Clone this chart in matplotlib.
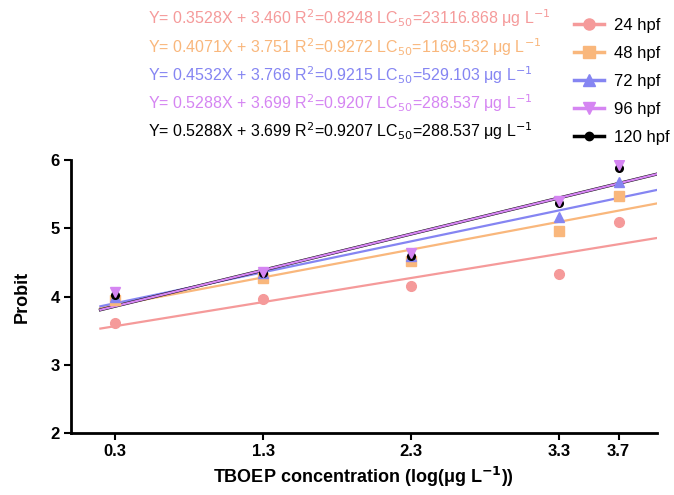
import matplotlib
matplotlib.use("Agg")
import matplotlib.pyplot as plt
from matplotlib.lines import Line2D
import numpy as np

plt.rcParams['font.family'] = ['Liberation Sans', 'DejaVu Sans']

x_vals = [0.3, 1.3, 2.3, 3.3, 3.7]
xtick_labels = ["0.3", "1.3", "2.3", "3.3", "3.7"]
series_names = ["24 hpf", "48 hpf", "72 hpf", "96 hpf", "120 hpf"]
y24 = [3.61, 3.96, 4.15, 4.33, 5.09]
y48 = [3.95, 4.27, 4.52, 4.96, 5.47]
y72 = [4.00, 4.35, 4.60, 5.16, 5.68]
y96 = [4.06, 4.36, 4.64, 5.40, 5.93]
y120 = [4.02, 4.34, 4.60, 5.37, 5.88]
slopes = [0.3528, 0.4071, 0.4532, 0.5288, 0.5288]
intercepts = [3.460, 3.751, 3.766, 3.699, 3.699]
r2 = ["0.8248", "0.9272", "0.9215", "0.9207", "0.9207"]
lc50 = ["23116.868", "1169.532", "529.103", "288.537", "288.537"]

colors = ["#F59A9A", "#F9B77C", "#8585F2", "#D585F2", "#000000"]
markers = ["o", "s", "^", "v", "o"]
ys = [y24, y48, y72, y96, y120]

fig = plt.figure(figsize=(6.74, 4.95), dpi=100)
ax = fig.add_axes([0.105, 0.125, 0.87, 0.552])

xl = np.array([0.2, 3.96])
line_z = [2.0, 2.1, 2.2, 2.4, 2.3]
for i in range(5):
    lw = 2.2 if i == 4 else 1.6
    ax.plot(xl, slopes[i] * xl + intercepts[i], color=colors[i], lw=lw, zorder=line_z[i])

mark_z = [3.0, 3.1, 3.2, 3.4, 3.3]
for i in range(5):
    ms = 5.5 if i == 4 else 7
    ax.plot(x_vals, ys[i], linestyle='none', marker=markers[i], color=colors[i],
            markersize=ms, zorder=mark_z[i])

ax.set_xlim(0, 3.96)
ax.set_ylim(2, 6)
ax.set_xticks(x_vals)
ax.set_xticklabels(xtick_labels, fontweight='bold', fontsize=12)
ax.set_yticks([2, 3, 4, 5, 6])
ax.set_yticklabels(["2", "3", "4", "5", "6"], fontweight='bold', fontsize=12)
for s in ['top', 'right']:
    ax.spines[s].set_visible(False)
for s in ['left', 'bottom']:
    ax.spines[s].set_linewidth(2)
ax.tick_params(width=1.5, length=5, direction='out', pad=3)

ax.set_ylabel("Probit", fontweight='bold', fontsize=13, labelpad=14)
ax.set_xlabel("TBOEP concentration (log(μg L$^{\\mathbf{-1}}$))", fontweight='bold',
              fontsize=13, labelpad=4)

# equations
eq_y = [18, 47, 75, 103, 131]
for i in range(5):
    txt = ("Y= %.4fX + %.3f R$^{2}$=%s LC$_{50}$=%s μg L$^{-1}$"
           % (slopes[i], intercepts[i], r2[i], lc50[i]))
    fig.text(148 / 674, 1 - eq_y[i] / 495, txt, color=colors[i], fontsize=11.5,
             va='center', ha='left')

# legend
handles = [Line2D([0], [0], color=colors[i], marker=markers[i], lw=2.5,
                  markersize=(6 if i == 4 else 8)) for i in range(5)]
leg = fig.legend(handles, series_names, loc='upper left', bbox_to_anchor=(0.835, 0.987),
                 frameon=False, fontsize=12, handlelength=1.8, handletextpad=0.6,
                 labelspacing=0.78, borderaxespad=0.3)

fig.savefig("out.png", dpi=100)
